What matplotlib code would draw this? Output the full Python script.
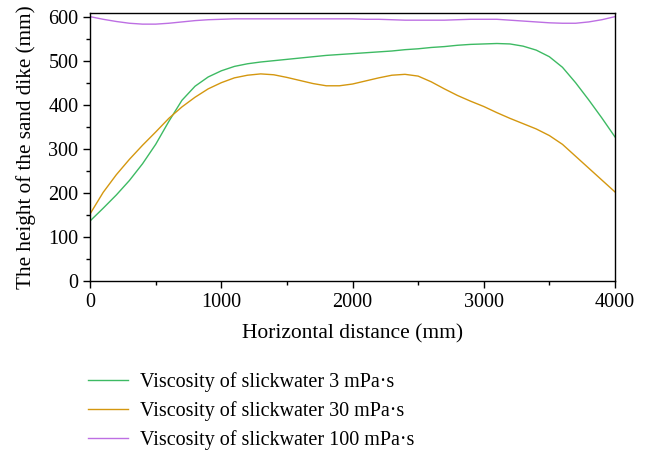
import numpy as np
import matplotlib
matplotlib.use("Agg")
import matplotlib.pyplot as plt
from matplotlib.ticker import MultipleLocator

# horizontal distance (mm), sampled every 100 mm
x_mm = list(range(0, 4001, 100))

# sand dike height (mm)
h_3 = [136, 165, 195, 228, 266, 310, 362, 410, 442, 463,
       477, 487, 493, 497, 500, 503, 506, 509, 512, 514,
       516, 518, 520, 522, 525, 527, 530, 532, 535, 537,
       538, 539, 538, 533, 524, 509, 485, 450, 411, 370,
       327]
h_30 = [152, 201, 241, 276, 308, 338, 369, 395, 417, 436,
        450, 461, 467, 470, 468, 462, 455, 448, 443, 443,
        447, 454, 461, 467, 469, 465, 452, 436, 421, 408,
        396, 382, 369, 357, 345, 330, 310, 283, 256, 229,
        202]
h_100 = [600, 594, 589, 585, 583, 583, 585, 588, 591, 593,
         594, 595, 595, 595, 595, 595, 595, 595, 595, 595,
         595, 594, 594, 593, 592, 592, 592, 592, 593, 594,
         594, 594, 592, 590, 588, 586, 585, 585, 588, 593,
         600]

labels = ["Viscosity of slickwater 3 mPa\u00b7s",
          "Viscosity of slickwater 30 mPa\u00b7s",
          "Viscosity of slickwater 100 mPa\u00b7s"]
colors = ["#3dba63", "#d4970f", "#bd6fe3"]

plt.rcParams["font.family"] = ["Liberation Serif", "DejaVu Serif"]
plt.rcParams["font.size"] = 14.5

fig = plt.figure(figsize=(6.48, 4.53), dpi=100)
ax = fig.add_axes([0.139, 0.380, 0.810, 0.592])

for y, c, lab in zip([h_3, h_30, h_100], colors, labels):
    ax.plot(x_mm, y, color=c, lw=1.0, label=lab)

ax.set_xlim(0, 4000)
ax.set_ylim(0, 609)
ax.xaxis.set_major_locator(MultipleLocator(1000))
ax.xaxis.set_minor_locator(MultipleLocator(500))
ax.yaxis.set_major_locator(MultipleLocator(100))
ax.yaxis.set_minor_locator(MultipleLocator(50))
ax.tick_params(which="major", direction="out", length=5, width=1)
ax.tick_params(which="minor", direction="out", length=3, width=1)
for s in ax.spines.values():
    s.set_linewidth(1.0)

ax.set_xlabel("Horizontal distance (mm)", fontsize=15.5, labelpad=9)
ax.set_ylabel("The height of the sand dike (mm)", fontsize=15.2, labelpad=9)

fig.legend(loc="lower left", bbox_to_anchor=(0.108, -0.034), frameon=False,
           handlelength=2.0, handletextpad=0.6, labelspacing=0.45,
           fontsize=14.5)

fig.savefig("out.png", dpi=100)
